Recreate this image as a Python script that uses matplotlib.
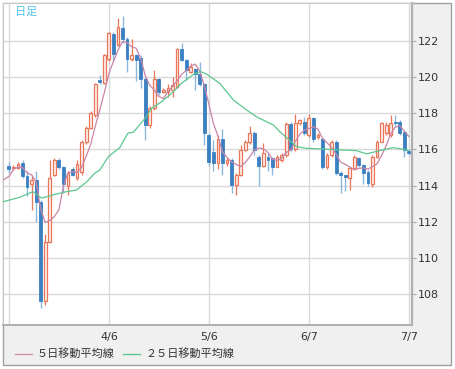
import matplotlib
matplotlib.use('Agg')
import matplotlib.pyplot as plt
import numpy as np
import pandas as pd
from matplotlib.lines import Line2D
from matplotlib.patches import Rectangle

plt.rcParams['font.family'] = ['DejaVu Sans', 'Noto Sans CJK JP']

# daily candles (index 0 = 3/6)
opens = [115.1, 114.95, 114.95, 115.25, 114.5, 114.1, 114.3, 113.1, 107.6, 110.9,
         114.6, 115.4, 115.0, 114.0, 114.9, 114.4, 114.75, 116.4, 117.2, 117.9,
         119.85, 119.7, 121.0, 122.4, 121.8, 122.7, 122.1, 121.0, 121.2, 121.05,
         119.9, 117.35, 118.3, 119.88, 119.2, 119.2, 119.3, 119.47, 121.55, 120.95,
         120.3, 120.45, 120.15, 119.6, 116.8, 115.87, 115.24, 116.6, 115.24, 115.4,
         114.03, 114.6, 115.97, 116.4, 116.9, 115.6, 115.1, 115.6, 115.5, 115.05,
         115.4, 115.7, 117.4, 116.0, 117.45, 117.5, 116.8, 117.75, 116.7, 116.6,
         115.05, 115.7, 116.4, 114.7, 114.6, 114.4, 114.95, 115.5, 115.14, 114.77,
         114.1, 115.6, 116.43, 116.9, 116.8, 117.53, 117.53, 116.97, 115.9]
highs = [115.3, 115.15, 115.3, 115.4, 114.8, 114.6, 114.8, 113.2, 111.3, 115.4,
         115.5, 115.5, 115.1, 114.8, 115.0, 115.4, 116.5, 117.3, 118.1, 119.7,
         120.1, 121.3, 122.5, 122.5, 123.25, 123.4, 122.2, 122.1, 121.3, 121.2,
         120.0, 118.4, 120.4, 119.95, 119.4, 119.6, 120.0, 121.6, 121.9, 121.0,
         120.76, 120.5, 120.85, 119.7, 116.9, 116.5, 116.8, 117.1, 115.5, 115.5,
         114.7, 116.24, 116.5, 117.3, 117.0, 115.7, 116.35, 115.8, 115.6, 115.7,
         115.8, 117.5, 117.5, 117.95, 117.7, 117.8, 117.95, 117.8, 116.9, 116.7,
         115.8, 116.5, 116.5, 114.8, 114.6, 115.0, 115.7, 115.6, 115.2, 114.85,
         115.7, 116.5, 117.5, 117.5, 117.9, 117.9, 117.6, 117.0, 115.95]
lows = [114.7, 114.85, 114.9, 114.4, 113.4, 112.65, 112.0, 107.2, 107.4, 110.8,
        114.5, 114.9, 113.6, 113.5, 114.5, 114.3, 114.6, 116.3, 117.1, 117.8,
        119.6, 119.6, 120.9, 120.9, 121.7, 121.9, 120.3, 120.9, 119.8, 119.4,
        116.5, 117.2, 118.2, 119.0, 119.1, 118.9, 118.9, 119.4, 120.9, 119.84,
        120.2, 119.3, 119.5, 116.25, 115.1, 114.8, 114.9, 114.6, 115.1, 113.57,
        113.48, 114.5, 115.9, 116.3, 115.7, 114.0, 115.0, 114.8, 114.6, 115.0,
        115.3, 115.6, 115.9, 115.9, 117.35, 116.8, 116.7, 116.4, 116.6, 114.9,
        114.9, 115.6, 114.6, 113.6, 113.7, 113.75, 114.9, 115.0, 114.1, 114.0,
        113.9, 115.5, 116.4, 116.8, 116.7, 117.3, 116.8, 115.6, 115.7]
closes = [114.9, 115.0, 115.2, 114.5, 113.9, 114.3, 113.1, 107.6, 110.9, 114.4,
          115.4, 115.0, 114.1, 114.7, 114.6, 115.2, 116.4, 117.2, 118.0, 119.6,
          119.75, 121.2, 122.45, 121.3, 122.75, 122.1, 121.0, 121.2, 120.95, 119.9,
          117.35, 118.3, 119.88, 119.2, 119.3, 119.38, 119.56, 121.55, 120.95, 120.4,
          120.55, 120.15, 119.6, 116.9, 115.3, 115.24, 116.6, 115.24, 115.4, 114.03,
          114.58, 115.97, 116.43, 116.9, 115.97, 115.1, 115.78, 115.4, 115.05, 115.6,
          115.7, 117.4, 116.0, 117.45, 117.6, 116.9, 117.75, 116.55, 116.8, 115.05,
          115.7, 116.4, 114.7, 114.6, 114.45, 114.95, 115.6, 115.15, 114.68, 114.16,
          115.6, 116.43, 117.44, 117.35, 117.44, 117.44, 116.89, 115.97, 115.82]

# 5-day MA before enough candles exist
ma5_head_idx = [-1.3, 0, 1, 2, 3]
ma5_head = [114.3, 114.5, 114.9, 115.0, 115.0]

# 25-day MA
ma25_idx = [-1.3, 2.4, 5.3, 7.2, 10, 12.7, 14.9, 17.1, 18.9, 20, 21.9, 24.4, 26.2,
            27.4, 29.9, 31.4, 33.6, 35.8, 38, 40.9, 42.2, 43.5, 46.4, 49.4, 52.3,
            54.5, 58.2, 59.6, 61.8, 63.3, 65.5, 70.6, 76.5, 78.7, 81.6, 84.6, 86.8, 88]
ma25 = [113.1, 113.35, 113.66, 113.3, 113.5, 113.66, 113.75, 114.2, 114.68, 114.86,
        115.6, 116.1, 116.9, 116.95, 117.7, 118.27, 118.64, 119.1, 119.66, 120.2,
        120.3, 120.17, 119.65, 118.73, 118.18, 117.8, 117.35, 116.98, 116.5, 116.15,
        116.06, 116.0, 115.93, 115.75, 115.93, 116.1, 116.0, 115.93]

tick_pos = [0, 22, 44, 66, 88]
tick_labels = ['', '4/6', '5/6', '6/7', '7/7']
y_ticks = [108, 110, 112, 114, 116, 118, 120, 122]

W, H = 455, 369
fig = plt.figure(figsize=(W / 100, H / 100), dpi=100)
fig.patch.set_facecolor('white')
frame = Rectangle((2.5 / W, 4.5 / H), 448 / W, 362 / H, transform=fig.transFigure,
                  facecolor='#f0f0f0', edgecolor='#a0a0a0', lw=1, zorder=-10)
fig.add_artist(frame)

ax = fig.add_axes([3 / W, (H - 325) / H, 409 / W, 322 / H])
ax.set_zorder(1)
ax.set_facecolor('white')

o = np.array(opens)
h = np.array(highs)
l = np.array(lows)
c = np.array(closes)
x = np.arange(len(o))
up = c >= o

up_col = '#e8775a'
dn_col = '#3b80c0'
ax.vlines(x[up], l[up], h[up], color=up_col, lw=0.9, zorder=3)
ax.vlines(x[~up], l[~up], h[~up], color='#8db6dc', lw=1.0, zorder=3)
body_lo = np.minimum(o, c)
body_h = np.maximum(np.abs(c - o), 0.05)
ax.bar(x[up], body_h[up], bottom=body_lo[up], width=0.62, facecolor='#fdf0ec',
       edgecolor=up_col, lw=0.9, zorder=4)
ax.bar(x[~up], body_h[~up], bottom=body_lo[~up], width=0.62, facecolor=dn_col,
       edgecolor=dn_col, lw=0.6, zorder=4)

ma5 = pd.Series(closes).rolling(5).mean().values
ma5_x = list(ma5_head_idx) + list(x[4:])
ma5_y = list(ma5_head) + list(ma5[4:])
ax.plot(ma5_x, ma5_y, color='#c985a8', lw=0.9, zorder=5)
ax.plot(ma25_idx, ma25, color='#5cc78f', lw=0.9, zorder=5)

ax.set_xlim(-1.3, 88.7)
ax.set_ylim(106.28, 124.1)
ax.set_xticks(tick_pos)
ax.set_xticklabels(tick_labels)
ax.set_yticks(y_ticks)
ax.yaxis.tick_right()
ax.grid(True, color='#d9d9d9', lw=1)
ax.set_axisbelow(True)
ax.tick_params(axis='x', length=0, pad=5, labelsize=8, labelcolor='#333333')
ax.tick_params(axis='y', length=3, color='#aaaaaa', pad=1, labelsize=8, labelcolor='#333333')
for side in ['left', 'top']:
    ax.spines[side].set_color('#c8c8c8')
    ax.spines[side].set_linewidth(0.8)
ax.spines['right'].set_color('#b0b0b0')
ax.spines['right'].set_linewidth(1.6)
ax.spines['bottom'].set_color('#b0b0b0')
ax.spines['bottom'].set_linewidth(1.4)

ax.text(12 / 409, 0.988, '日足', transform=ax.transAxes, ha='left', va='top',
        fontsize=8, color='#4fc3ee', family=['Noto Sans CJK JP'])

# legend row
ly = (H - 354) / H
fig.add_artist(Line2D([15 / W, 32 / W], [ly, ly], color='#d48fae', lw=1))
fig.text(37 / W, ly, '５日移動平均線', ha='left', va='center', fontsize=8,
         color='#333333', family=['Noto Sans CJK JP'])
fig.add_artist(Line2D([123 / W, 140 / W], [ly, ly], color='#5cc78f', lw=1))
fig.text(145 / W, ly, '２５日移動平均線', ha='left', va='center', fontsize=8,
         color='#333333', family=['Noto Sans CJK JP'])

fig.savefig('out.png', dpi=100)
